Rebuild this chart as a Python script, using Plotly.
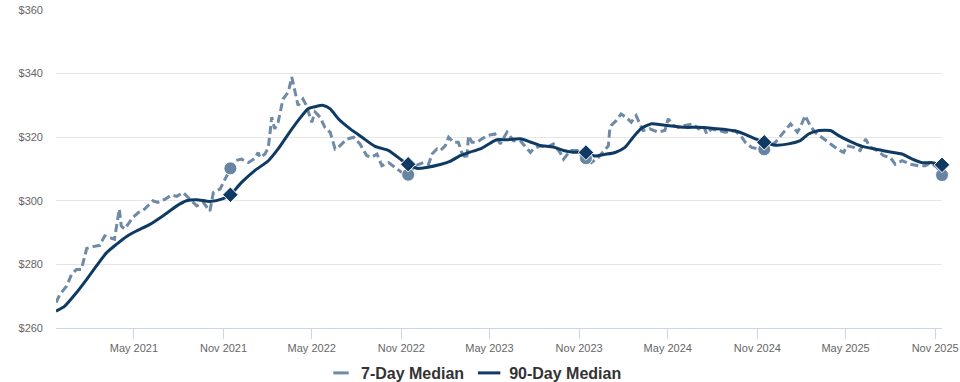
import plotly.graph_objects as go

# ---- data ----
d7_dates = [
    "2020-11-22","2020-11-30","2020-12-14","2020-12-24","2021-01-03","2021-01-13","2021-01-20","2021-01-24","2021-02-06","2021-02-20",
    "2021-03-02","2021-03-12","2021-03-22","2021-04-01","2021-04-05","2021-04-12","2021-04-29","2021-05-10","2021-05-23","2021-06-09",
    "2021-06-19","2021-07-04","2021-07-17","2021-07-28","2021-08-10","2021-08-24","2021-09-07","2021-09-20","2021-10-04","2021-10-11",
    "2021-10-25","2021-11-04","2021-11-15",
    "2021-11-24","2021-12-08","2021-12-22","2022-01-04","2022-01-11","2022-01-15","2022-01-25","2022-02-01","2022-02-04","2022-02-08",
    "2022-02-14","2022-02-21","2022-03-03","2022-03-14","2022-03-21","2022-03-28","2022-04-03","2022-04-13","2022-04-20","2022-05-01",
    "2022-05-08","2022-05-18","2022-05-28","2022-06-08","2022-06-18","2022-06-28","2022-07-12","2022-07-26","2022-08-08","2022-08-22",
    "2022-09-01","2022-09-12","2022-09-22","2022-10-06","2022-10-19","2022-11-02","2022-11-15",
    "2022-11-29","2022-12-16","2022-12-27","2023-01-03","2023-01-13","2023-01-20","2023-01-30","2023-02-06","2023-02-16","2023-02-26",
    "2023-03-05","2023-03-15","2023-03-19","2023-03-26","2023-04-05","2023-04-15","2023-04-26","2023-05-12","2023-05-23","2023-06-06",
    "2023-06-19","2023-07-03","2023-07-13","2023-07-24","2023-07-30","2023-08-13","2023-08-27","2023-09-09","2023-09-23","2023-09-30",
    "2023-10-14","2023-10-28","2023-11-08","2023-11-15",
    "2023-11-26","2023-12-10","2023-12-31","2024-01-03","2024-01-06","2024-01-16","2024-01-26","2024-02-05","2024-02-16","2024-02-26",
    "2024-03-11","2024-03-25","2024-04-11","2024-04-25","2024-05-02","2024-05-12","2024-05-23","2024-06-05","2024-06-22","2024-07-03",
    "2024-07-13","2024-07-20","2024-07-30","2024-08-13","2024-08-27","2024-09-16","2024-09-30","2024-10-07","2024-10-20","2024-11-03",
    "2024-11-15",
    "2024-12-08","2024-12-25","2025-01-08","2025-01-22","2025-01-28","2025-02-07","2025-02-17","2025-02-27","2025-03-13","2025-03-31",
    "2025-04-14","2025-04-27","2025-05-04","2025-05-18","2025-05-31","2025-06-11","2025-06-21","2025-07-05","2025-07-18","2025-08-01",
    "2025-08-11","2025-08-25","2025-09-11","2025-09-28","2025-10-12","2025-10-22","2025-11-05","2025-11-15",
]
d7_values = [
    268, 270.6, 273.2, 276.9, 278.4, 278.4, 282.6, 285, 285.6, 286,
    289, 288.5, 287.9, 297.4, 292.1, 291.1, 294.8, 296.3, 297.4, 300,
    299.5, 300.5, 301.8, 301.4, 302.6, 300.5, 298.4, 299.5, 296.8, 302.6,
    303.7, 306.8, 310.2,
    312.6, 313.1, 312, 313.3, 315.2, 313.6, 314.7, 316.8, 320.5, 326.3,
    322.6, 324.7, 332, 334.2, 338.9, 334.2, 330, 332, 330, 324.7,
    327.9, 326.3, 323.1, 321.5, 316.3, 317.3, 319.4, 320, 317.9, 314.2,
    313.7, 314.7, 311, 312, 310.5, 308.9, 308.2,
    311, 312, 311.5, 314.7, 316.3, 315.8, 317.3, 320, 318.4, 318.4,
    315.2, 313.1, 320.5, 318.4, 318.4, 319.4, 320.5, 321, 317.9, 321.6,
    318.9, 318.9, 317.3, 315.2, 316.3, 317.3, 316.8, 317.9, 315.2, 313.1,
    315.8, 315.8, 313, 313.4,
    312, 313.6, 317.3, 322.6, 323.7, 325.2, 327.3, 326.3, 324.7, 326.8,
    322.1, 322.6, 321.6, 322.1, 325.8, 323.7, 323.1, 323.7, 324.2, 322.6,
    323.7, 321, 322.6, 322.1, 321.6, 322.1, 320, 318.4, 316.8, 316.3,
    316.2,
    318.4, 321.6, 324.2, 321.6, 323.1, 326.8, 323.7, 321.6, 320, 317.9,
    316.3, 315.2, 317.3, 316.8, 315.8, 319.4, 316.8, 315.8, 314.2, 313.6,
    311.5, 312.6, 311.5, 311, 311, 312, 310.5, 308.1,
]

d90_dates = [
    "2020-11-22","2020-12-10","2021-01-03","2021-01-24","2021-02-13","2021-03-06","2021-03-26","2021-04-16","2021-05-06","2021-06-03",
    "2021-06-30","2021-07-28","2021-08-17","2021-09-07","2021-10-04","2021-10-31","2021-11-15","2021-12-08","2022-01-04","2022-02-01",
    "2022-02-21","2022-03-14","2022-04-03","2022-04-23","2022-05-08","2022-05-25","2022-06-08","2022-06-25","2022-07-19","2022-08-12",
    "2022-09-08","2022-10-06","2022-11-05","2022-11-15","2022-12-03","2022-12-23","2023-01-20","2023-02-09","2023-03-02","2023-03-22",
    "2023-04-12","2023-05-02","2023-05-16","2023-06-06","2023-07-03","2023-07-24","2023-08-13","2023-09-09","2023-09-30","2023-10-20",
    "2023-11-15","2023-12-03","2023-12-24","2024-01-14","2024-02-03","2024-02-20","2024-03-08","2024-03-29","2024-04-18","2024-05-09",
    "2024-06-05","2024-07-03","2024-07-30","2024-08-27","2024-09-23","2024-10-20","2024-11-15","2024-12-08","2025-01-04","2025-01-28",
    "2025-02-14","2025-03-07","2025-03-31","2025-04-17","2025-05-07","2025-06-04","2025-07-01","2025-07-29","2025-08-25","2025-09-15",
    "2025-10-05","2025-10-26","2025-11-15",
]
d90_values = [
    265.3, 266.9, 271.1, 275.3, 279.5, 283.7, 286.3, 288.8, 290.5, 292.6,
    295.3, 298.4, 300, 300.3, 299.8, 300.7, 301.9, 305.8, 309.5, 312.6,
    316.3, 321, 325.2, 328.9, 329.6, 330, 328.9, 325.7, 322.6, 320,
    317.1, 315.8, 312.4, 311.5, 310.2, 310.5, 311.4, 312.4, 314.2, 315.3,
    316.3, 318.1, 319.2, 319.2, 319.5, 318.5, 317.4, 316.9, 315.8, 315.3,
    315.2, 314.1, 314.6, 315.2, 316.8, 320, 322.8, 324.2, 323.9, 323.5,
    323.1, 323.1, 322.8, 322.4, 321.7, 320, 318.4, 317.5, 317.9, 318.9,
    321, 322.1, 322.1, 320.5, 318.9, 317.1, 316.3, 315.4, 314.7, 313.1,
    312, 312, 311.3,
]

marker_dates = ["2021-11-15", "2022-11-15", "2023-11-15", "2024-11-15", "2025-11-15"]
marker_7d = [310.2, 308.2, 313.4, 316.2, 308.1]
marker_90d = [301.9, 311.5, 315.2, 318.4, 311.3]

series_names = ["7-Day Median", "90-Day Median"]
y_ticks = [260, 280, 300, 320, 340, 360]
y_ticktext = [f"${v}" for v in y_ticks]

C7 = "#6e8aa6"
C90 = "#0f3a63"

fig = go.Figure()
fig.add_trace(go.Scatter(x=d7_dates, y=d7_values, mode="lines", showlegend=False,
                         line=dict(color=C7, width=3, dash="8px,4px"), hoverinfo="skip"))
fig.add_trace(go.Scatter(x=d90_dates, y=d90_values, mode="lines", showlegend=False,
                         line=dict(color=C90, width=3, shape="spline", smoothing=0.6)))
fig.add_trace(go.Scatter(x=marker_dates, y=marker_7d, mode="markers", showlegend=False, cliponaxis=False,
                         marker=dict(symbol="circle", size=13, color="#6784a3", line=dict(color="white", width=1))))
fig.add_trace(go.Scatter(x=marker_dates, y=marker_90d, mode="markers", showlegend=False, cliponaxis=False,
                         marker=dict(symbol="diamond", size=12, color=C90, line=dict(color="white", width=1))))

# legend entries
fig.add_trace(go.Scatter(x=[None], y=[None], mode="markers", name=series_names[0],
                         marker=dict(symbol="line-ew", size=11, line=dict(color=C7, width=3))))
fig.add_trace(go.Scatter(x=[None], y=[None], mode="markers", name=series_names[1],
                         marker=dict(symbol="line-ew", size=16, line=dict(color=C90, width=3))))

fig.update_layout(
    width=960, height=382,
    margin=dict(l=56, r=18, t=10, b=54, autoexpand=False),
    paper_bgcolor="white", plot_bgcolor="white",
    font=dict(family="Liberation Sans, Arial, sans-serif", color="#666666", size=11),
    showlegend=True,
    legend=dict(orientation="h", x=0.5 - 6 / 960, xanchor="center", xref="container",
                y=1 - 373 / 382, yanchor="middle", yref="container",
                font=dict(size=16, color="#333333", weight="bold"),
                itemwidth=30, tracegroupgap=0, bgcolor="rgba(0,0,0,0)"),
    xaxis=dict(type="date", range=["2020-11-22", "2025-11-15"],
               tick0="2021-05-01", dtick="M6", tickformat="%b %Y",
               showgrid=False, showline=True, linecolor="#ccd6eb", linewidth=1,
               ticks="outside", ticklen=10, tickcolor="#ccd6eb",
               tickfont=dict(size=11, color="#666666"), zeroline=False,
               automargin=False, ticklabeloverflow="allow"),
    yaxis=dict(range=[260, 360], tickvals=y_ticks, ticktext=y_ticktext,
               showgrid=True, gridcolor="#e6e6e6", gridwidth=1, zeroline=False,
               showline=False, ticks="", ticklabelstandoff=12, automargin=False,
               tickfont=dict(size=11, color="#666666")),
)

fig.write_html("out.html", config={"displayModeBar": False},
               post_script="document.body.style.margin='0';")
